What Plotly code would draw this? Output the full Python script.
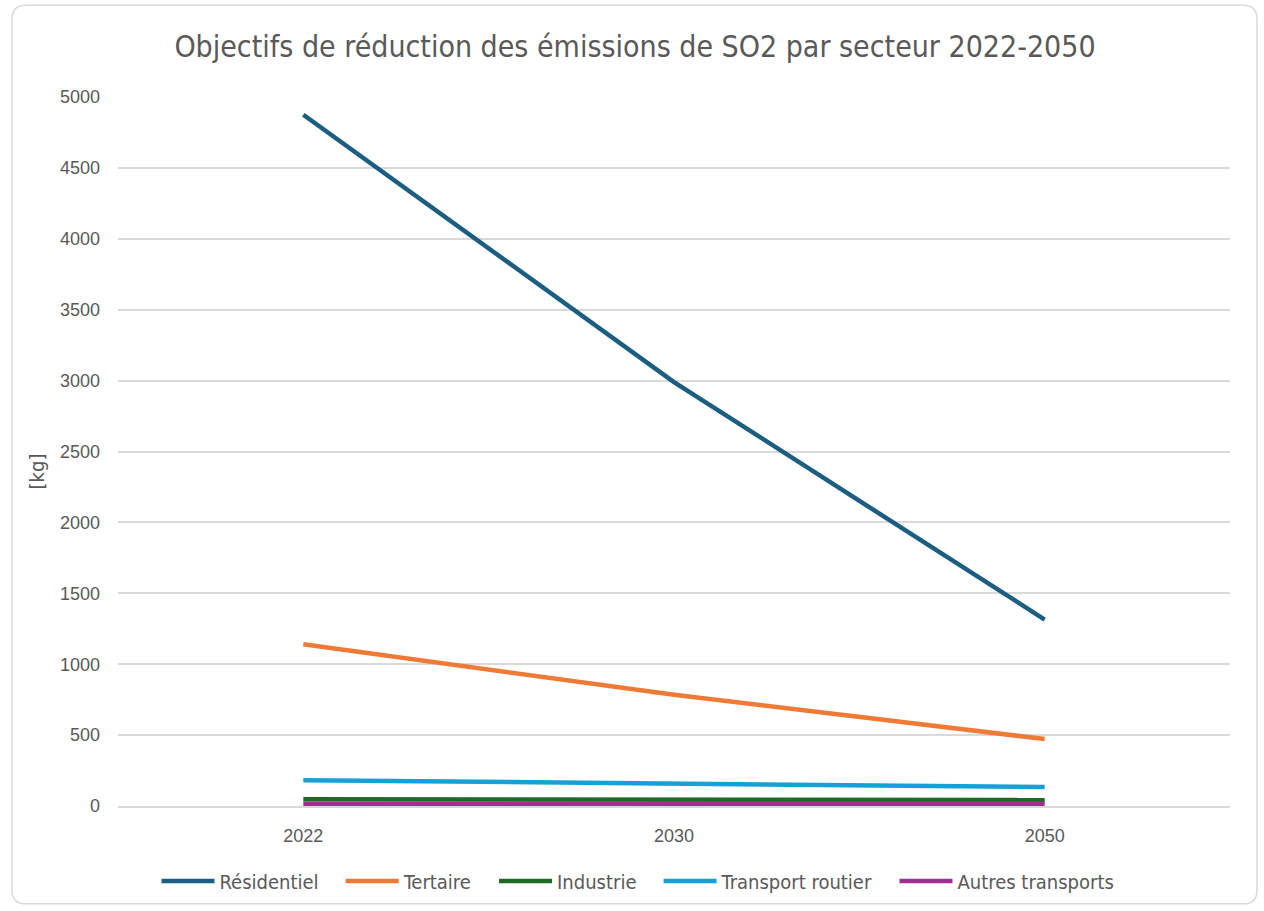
import plotly.graph_objects as go

years = ["2022", "2030", "2050"]
residentiel = [4875, 2990, 1315]
tertaire = [1140, 785, 472]
industrie = [48, 44, 42]
transport_routier = [182, 157, 134]
autres_transports = [16, 15, 15]

series = [
    ("Résidentiel", residentiel, "#1b5e82"),
    ("Tertaire", tertaire, "#ef7a35"),
    ("Industrie", industrie, "#1e6b26"),
    ("Transport routier", transport_routier, "#16a0d8"),
    ("Autres transports", autres_transports, "#a0308f"),
]

fig = go.Figure()
for i, (name, vals, col) in enumerate(series):
    pad = "\u00a0" * 3 if i < len(series) - 1 else ""
    fig.add_trace(go.Scatter(x=years, y=vals, name=name + pad, mode="lines",
                             line=dict(color=col, width=4.5)))

W, H = 1264, 911
PL, PR, PT, PB = 118, 1230, 97, 807
ml, mr, mt, mb = PL, W - PR, PT, H - PB
pw, ph = PR - PL, PB - PT

def px_x(px):
    return (px - PL) / pw

def px_y(py):
    return (PB - py) / ph

x0, x1, y0, y1, r = 12, 1257, 5, 905, 14
def P(x, y):
    return f"{px_x(x)},{px_y(y)}"
path = (f"M {P(x0 + r, y0)} L {P(x1 - r, y0)} Q {P(x1, y0)} {P(x1, y0 + r)} "
        f"L {P(x1, y1 - r)} Q {P(x1, y1)} {P(x1 - r, y1)} "
        f"L {P(x0 + r, y1)} Q {P(x0, y1)} {P(x0, y1 - r)} "
        f"L {P(x0, y0 + r)} Q {P(x0, y0)} {P(x0 + r, y0)} Z")

narrow = "DejaVu Sans Condensed, Liberation Sans Narrow, Roboto, Arial"
sans = "Liberation Sans, Arial, sans-serif"
grey = "#595959"

fig.update_layout(
    width=W, height=H,
    margin=dict(l=ml, r=mr, t=mt, b=mb),
    paper_bgcolor="white", plot_bgcolor="white",
    title=dict(text="Objectifs de réduction des émissions de SO2 par secteur 2022-2050",
               x=px_x(635), xref="paper", xanchor="center",
               y=1 - 46 / H, yanchor="middle",
               font=dict(family=narrow, size=30, color=grey)),
    xaxis=dict(type="category", range=[-0.5, 2.5], showgrid=False,
               showline=True, linecolor="#d9d9d9", linewidth=1.5,
               ticks="", ticklabelstandoff=13,
               tickfont=dict(family=sans, size=18, color=grey)),
    yaxis=dict(range=[0, 5000], dtick=500, showgrid=True, gridcolor="#d9d9d9", gridwidth=1.5,
               zeroline=False, showline=False, ticks="", ticklabelstandoff=17,
               tickfont=dict(family=sans, size=18, color=grey)),
    annotations=[dict(text="[kg]", x=px_x(37), y=px_y(472), xref="paper", yref="paper",
                      xanchor="center", yanchor="middle", textangle=-90, showarrow=False,
                      font=dict(family=narrow, size=20, color=grey))],
    legend=dict(orientation="h", x=px_x(638), xanchor="center", y=px_y(881), yanchor="middle",
                font=dict(family=narrow, size=20, color=grey),
                itemwidth=53, tracegroupgap=0),
    shapes=[dict(type="path", path=path, xref="paper", yref="paper",
                 line=dict(color="#d9d9d9", width=1.5), layer="below")],
    showlegend=True,
)

fig.write_html("out.html", config={"displayModeBar": False},
               post_script="document.body.style.margin='0';document.body.style.overflow='hidden';")
